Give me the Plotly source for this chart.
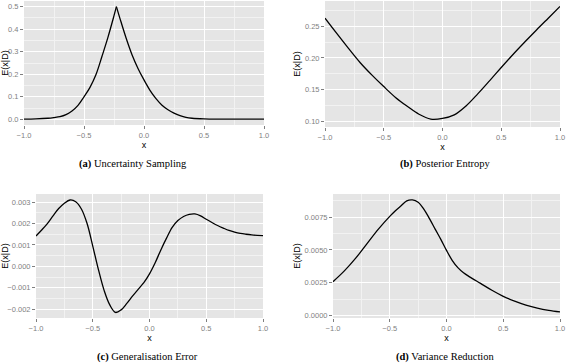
import plotly.graph_objects as go

# ---------------- data ----------------
# (a) Uncertainty Sampling
x_a = [-1.0, -0.9, -0.8, -0.75, -0.7, -0.65, -0.6, -0.55, -0.5, -0.45, -0.4, -0.35, -0.3,
       -0.25, -0.23, -0.2, -0.15, -0.1, -0.05, 0.0, 0.05, 0.1, 0.15, 0.2, 0.25, 0.3,
       0.35, 0.4, 0.5, 0.6, 0.8, 1.0]
y_a = [0.001, 0.002, 0.005, 0.008, 0.012, 0.021, 0.037, 0.062, 0.100, 0.142, 0.199, 0.280,
       0.365, 0.460, 0.500, 0.447, 0.362, 0.287, 0.226, 0.175, 0.129, 0.092, 0.063, 0.043,
       0.028, 0.017, 0.009, 0.005, 0.002, 0.001, 0.001, 0.001]

# (b) Posterior Entropy
x_b = [-1.0, -0.9, -0.8, -0.7, -0.6, -0.5, -0.4, -0.3, -0.2, -0.1, 0.0,
       0.1, 0.2, 0.3, 0.4, 0.5, 0.6, 0.7, 0.8, 0.9, 1.0]
y_b = [0.2625, 0.2385, 0.2150, 0.1925, 0.1730, 0.1550, 0.1380, 0.1240, 0.1115, 0.1040,
       0.1050, 0.1105, 0.1245, 0.1435, 0.1640, 0.1850, 0.2055, 0.2250, 0.2440, 0.2625,
       0.2810]

# (c) Generalisation Error
x_c = [-1.0, -0.95, -0.9, -0.85, -0.8, -0.75, -0.7, -0.65, -0.6, -0.55, -0.5, -0.45,
       -0.4, -0.35, -0.3, -0.25, -0.2, -0.15, -0.1, -0.05, 0.0, 0.05, 0.1, 0.15, 0.2,
       0.25, 0.3, 0.35, 0.4, 0.45, 0.5, 0.55, 0.6, 0.65, 0.7, 0.75, 0.8, 0.85, 0.9,
       0.95, 1.0]
y_c = [0.00142, 0.00170, 0.00200, 0.00236, 0.00270, 0.00295, 0.00310, 0.00302, 0.00268,
       0.00200, 0.00095, -0.00015, -0.00112, -0.00180, -0.00215, -0.00203, -0.00173,
       -0.00139, -0.00107, -0.00076, -0.00035, 0.00017, 0.00077, 0.00132, 0.00182,
       0.00214, 0.00233, 0.00243, 0.00245, 0.00236, 0.00220, 0.00205, 0.00191, 0.00179,
       0.00168, 0.00160, 0.00154, 0.00150, 0.00147, 0.00145, 0.00144]

# (d) Variance Reduction
x_d = [-1.0, -0.9, -0.8, -0.7, -0.6, -0.5, -0.45, -0.4, -0.35, -0.3, -0.25, -0.2, -0.15,
       -0.1, -0.05, 0.0, 0.05, 0.1, 0.15, 0.2, 0.3, 0.4, 0.5, 0.6, 0.7, 0.8, 0.9, 1.0]
y_d = [0.00258, 0.00340, 0.00437, 0.00548, 0.00658, 0.00755, 0.00798, 0.00836, 0.00873,
       0.00880, 0.00862, 0.00810, 0.00738, 0.00658, 0.00580, 0.00496, 0.00421, 0.00365,
       0.00326, 0.00297, 0.00245, 0.00193, 0.00147, 0.00110, 0.00080, 0.00057, 0.00040,
       0.00028]

x_ticks = [-1.0, -0.5, 0.0, 0.5, 1.0]
y_ticks_a = [0.0, 0.1, 0.2, 0.3, 0.4, 0.5]
y_ticks_b = [0.10, 0.15, 0.20, 0.25]
y_ticks_c = [-0.002, -0.001, 0.0, 0.001, 0.002, 0.003]
y_ticks_d = [0.0, 0.0025, 0.005, 0.0075]

captions = ["<b>(a)</b> Uncertainty Sampling", "<b>(b)</b> Posterior Entropy",
            "<b>(c)</b> Generalisation Error", "<b>(d)</b> Variance Reduction"]

W, H = 567, 363
LINE = dict(color="black", width=1.3)
SPL = dict(shape="spline", smoothing=1.0)

fig = go.Figure()

# panel (a): split at the cusp so the peak stays sharp
i_pk = y_a.index(max(y_a))
fig.add_trace(go.Scatter(x=x_a[:i_pk + 1], y=y_a[:i_pk + 1], mode="lines",
                         line=dict(**LINE, **SPL), xaxis="x", yaxis="y", showlegend=False))
fig.add_trace(go.Scatter(x=x_a[i_pk:], y=y_a[i_pk:], mode="lines",
                         line=dict(**LINE, **SPL), xaxis="x", yaxis="y", showlegend=False))
fig.add_trace(go.Scatter(x=x_b, y=y_b, mode="lines", line=dict(**LINE, **SPL),
                         xaxis="x2", yaxis="y2", showlegend=False))
fig.add_trace(go.Scatter(x=x_c, y=y_c, mode="lines", line=dict(**LINE, **SPL),
                         xaxis="x3", yaxis="y3", showlegend=False))
fig.add_trace(go.Scatter(x=x_d, y=y_d, mode="lines", line=dict(**LINE, **SPL),
                         xaxis="x4", yaxis="y4", showlegend=False))

GREY50 = "#7F7F7F"
TICKFONT = dict(family="Liberation Sans, Arial, sans-serif", size=7.5, color=GREY50)
TITLEFONT = dict(family="Liberation Sans, Arial, sans-serif", size=9, color="black")


def px_x(a, b):
    return [a / W, b / W]


def px_y(top, bottom):
    return [1 - bottom / H, 1 - top / H]


COMMON = dict(ticks="outside", ticklen=3, tickwidth=1, tickcolor=GREY50, tickfont=TICKFONT,
              showgrid=True, gridcolor="white", gridwidth=1.1, zeroline=False,
              showline=False, automargin=False, ticklabeloverflow="allow")


def xaxis(dom, anchor):
    return dict(domain=dom, anchor=anchor, range=[-1, 1], tickvals=x_ticks,
                tickformat=".1f",
                minor=dict(dtick=0.25, tick0=0, showgrid=True, gridcolor="#F2F2F2",
                           gridwidth=0.6, ticks=""),
                title=dict(text="x", font=TITLEFONT, standoff=0), **COMMON)


def yaxis(dom, anchor, rng, vals, fmt, minor_step):
    return dict(domain=dom, anchor=anchor, range=rng, tickvals=vals, tickformat=fmt,
                minor=dict(dtick=minor_step, tick0=0, showgrid=True, gridcolor="#F2F2F2",
                           gridwidth=0.6, ticks=""),
                title=dict(text="E(x|D)", font=TITLEFONT, standoff=2), **COMMON)


fig.update_layout(
    width=W, height=H,
    margin=dict(l=0, r=0, t=0, b=0),
    paper_bgcolor="white", plot_bgcolor="#E5E5E5",
    xaxis=xaxis(px_x(24, 264), "y"),
    yaxis=yaxis(px_y(1, 125), "x", [-0.025, 0.525], y_ticks_a, ".1f", 0.05),
    xaxis2=xaxis(px_x(325, 560), "y2"),
    yaxis2=yaxis(px_y(1, 127), "x2", [0.0915, 0.2895], y_ticks_b, ".2f", 0.025),
    xaxis3=xaxis(px_x(36, 263), "y3"),
    yaxis3=yaxis(px_y(194, 318), "x3", [-0.00241, 0.00338], y_ticks_c, ".3f", 0.0005),
    xaxis4=xaxis(px_x(333, 560), "y4"),
    yaxis4=yaxis(px_y(194, 318), "x4", [-0.00018, 0.00925], y_ticks_d, ".4f", 0.00125),
)

CAPFONT = dict(family="Liberation Serif, Times New Roman, serif", size=10.5, color="black")
cap_pos = [(133, 164), (445, 164), (147, 357), (445, 357)]
for text, (cx, cy) in zip(captions, cap_pos):
    fig.add_annotation(text=text, x=cx / W, y=1 - cy / H, xref="paper", yref="paper",
                       showarrow=False, font=CAPFONT, xanchor="center", yanchor="middle")

fig.write_html("out.html",
               config={"displayModeBar": False},
               post_script="document.body.style.margin='0';"
                           "document.body.style.overflow='hidden';")
